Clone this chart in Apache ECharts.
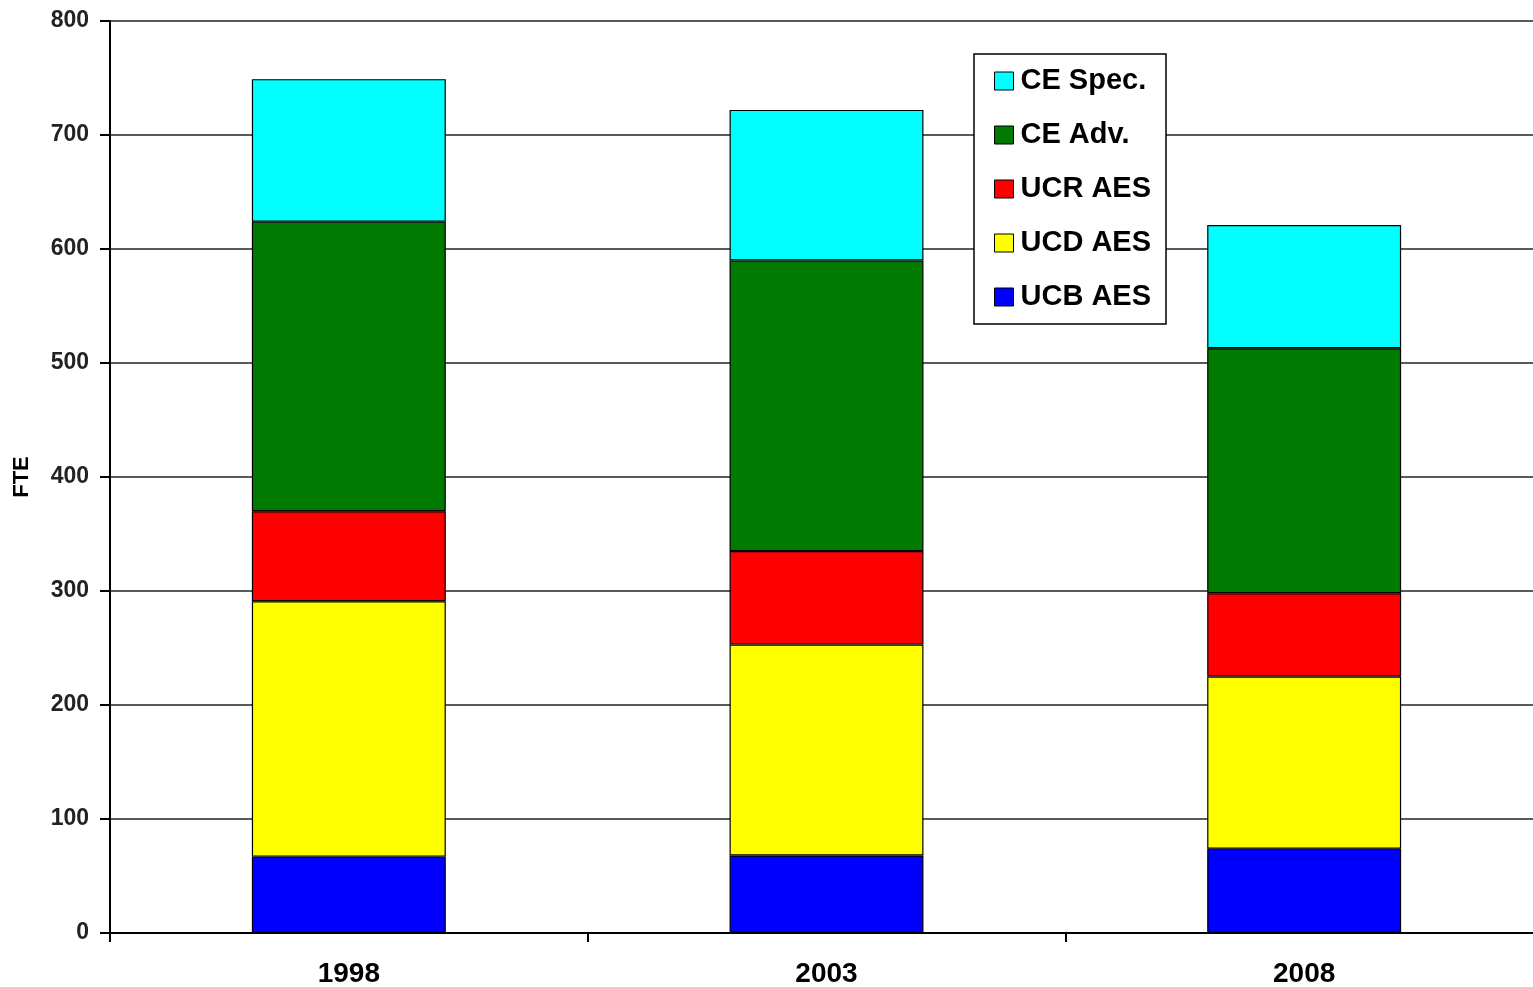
<!DOCTYPE html>
<html>
<head>
<meta charset="utf-8">
<script src="https://cdn.jsdelivr.net/npm/echarts@6/dist/echarts.min.js"></script>
<style>
  html, body { margin: 0; padding: 0; background: #fff; }
  #chart { width: 1533px; height: 987px; }
</style>
</head>
<body>
<div id="chart"></div>
<script>
let years = ['1998', '2003', '2008']
let ucbAes = [67, 68, 74]
let ucdAes = [224, 185, 151]
let ucrAes = [79, 82, 73]
let ceAdv = [254, 255, 215]
let ceSpec = [125, 132, 108]
let legendOrder = ['CE Spec.', 'CE Adv.', 'UCR AES', 'UCD AES', 'UCB AES']

let font = '"Liberation Sans", Arial, sans-serif'

function stackSeries(name, data, color) {
  return {
    name: name,
    type: 'bar',
    stack: 'fte',
    data: data,
    barWidth: '40.6%',
    itemStyle: { color: color, borderColor: '#000', borderWidth: 1.2 },
    emphasis: { disabled: true }
  }
}

let chart = echarts.init(document.getElementById('chart'))
chart.setOption({
  animation: false,
  textStyle: { fontFamily: font },
  grid: { left: 110, right: -10, top: 21, bottom: 54, outerBoundsMode: 'none', containLabel: false },
  legend: {
    orient: 'vertical',
    left: 974,
    top: 54,
    data: legendOrder,
    padding: [12, 15, 12, 20],
    itemGap: 24,
    itemWidth: 19,
    itemHeight: 18,
    icon: 'rect',
    backgroundColor: '#fff',
    borderColor: '#000',
    borderWidth: 1.5,
    itemStyle: { borderColor: '#000', borderWidth: 1 },
    textStyle: { fontSize: 29, fontWeight: 'bold', color: '#000', lineHeight: 30, padding: [0, 0, 0, 2] }
  },
  xAxis: {
    type: 'category',
    data: years,
    axisLine: { lineStyle: { color: '#000', width: 2 } },
    axisTick: { show: true, length: 9, interval: 0, lineStyle: { color: '#000', width: 2 } },
    axisLabel: { fontSize: 28, fontWeight: 'bold', color: '#000', margin: 27 }
  },
  yAxis: {
    type: 'value',
    min: 0,
    max: 800,
    interval: 100,
    name: 'FTE',
    nameLocation: 'middle',
    nameGap: 77,
    nameRotate: 90,
    nameTextStyle: { fontSize: 22, fontWeight: 'bold', color: '#000' },
    axisLine: { show: true, lineStyle: { color: '#000', width: 2 } },
    axisTick: { show: true, length: 10, lineStyle: { color: '#000', width: 2 } },
    axisLabel: { fontSize: 23, fontWeight: 'bold', color: '#222', margin: 21 },
    splitLine: { lineStyle: { color: '#222', width: 1.5 } }
  },
  series: [
    stackSeries('UCB AES', ucbAes, '#0000ff'),
    stackSeries('UCD AES', ucdAes, '#ffff00'),
    stackSeries('UCR AES', ucrAes, '#ff0000'),
    stackSeries('CE Adv.', ceAdv, '#007a00'),
    stackSeries('CE Spec.', ceSpec, '#00ffff')
  ]
})
</script>
</body>
</html>
